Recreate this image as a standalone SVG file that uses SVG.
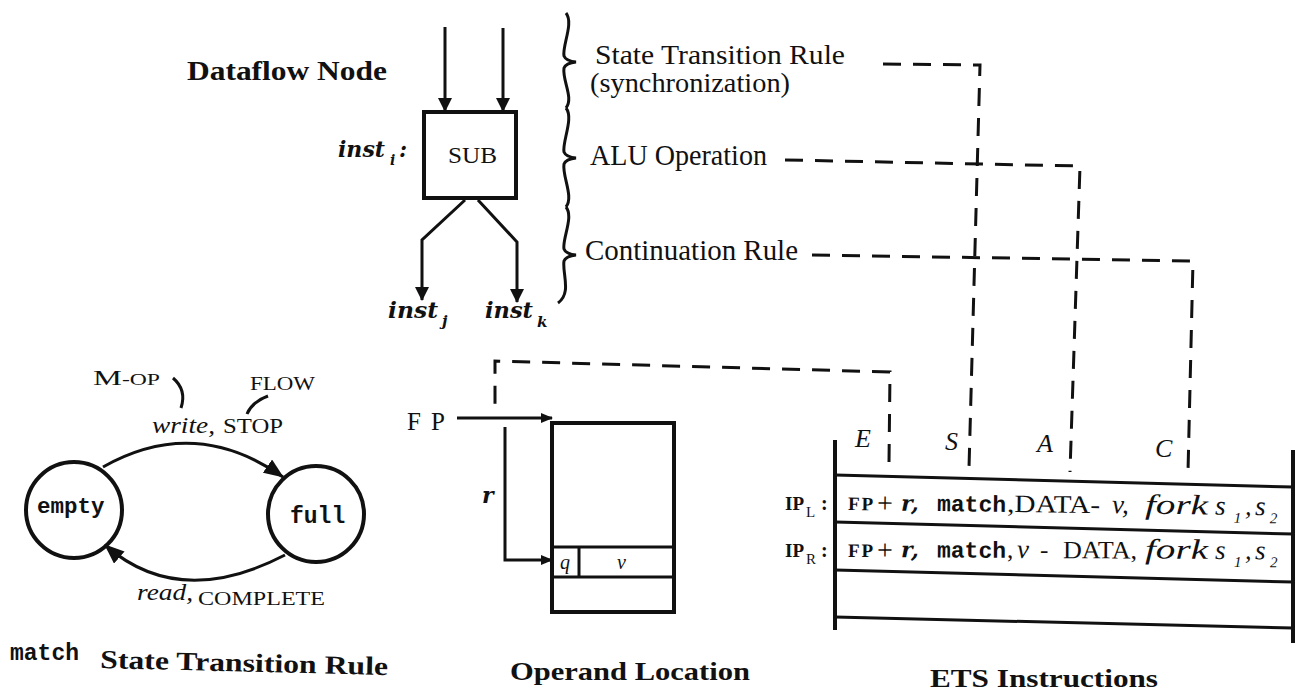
<svg xmlns="http://www.w3.org/2000/svg" width="1302" height="697" viewBox="0 0 1302 697">
<style>
text { fill:#111; }
.rm { font-family:"Liberation Serif", serif; }
.bf { font-family:"Liberation Serif", serif; font-weight:bold; }
.it { font-family:"Liberation Serif", serif; font-style:italic; }
.bi { font-family:"DejaVu Serif", "Liberation Serif", serif; font-weight:bold; font-style:italic; }
.tt { font-family:"Liberation Mono", monospace; font-weight:bold; }
.ln { fill:none; stroke:#111; stroke-width:3; }
.thick { fill:none; stroke:#111; stroke-width:4; }
.dash { fill:none; stroke:#111; stroke-width:3; stroke-dasharray:18 12; }
</style>
<defs>
<marker id="ah" markerUnits="userSpaceOnUse" viewBox="0 0 14 14" refX="13" refY="7" markerWidth="14" markerHeight="14" orient="auto"><path d="M0,0 L14,7 L0,14 z" fill="#111"/></marker>
<marker id="ahL" markerUnits="userSpaceOnUse" viewBox="0 0 20 16" refX="19" refY="8" markerWidth="20" markerHeight="16" orient="auto"><path d="M0,0 L20,8 L0,16 z" fill="#111"/></marker>
<marker id="ahS" markerUnits="userSpaceOnUse" viewBox="0 0 12 10" refX="11" refY="5" markerWidth="12" markerHeight="10" orient="auto"><path d="M0,0 L12,5 L0,10 z" fill="#111"/></marker>
</defs>
<rect width="1302" height="697" fill="#fff"/>

<g id="dataflow-title">
<text class="bf" x="187" y="80" font-size="27" textLength="200" lengthAdjust="spacingAndGlyphs">Dataflow Node</text>
</g>

<g id="node-sub">
<rect x="424" y="112" width="92" height="86" class="thick"/>
<text class="rm" x="448" y="163" font-size="24" textLength="49" lengthAdjust="spacingAndGlyphs">SUB</text>
<text class="bi" x="338" y="157" font-size="23" textLength="47" lengthAdjust="spacingAndGlyphs">inst</text>
<text class="bi" x="390" y="165" font-size="14">i</text>
<text class="bi" x="399" y="157" font-size="22">:</text>
</g>

<g id="node-instj">
<text class="bi" x="388" y="318" font-size="23" textLength="50" lengthAdjust="spacingAndGlyphs">inst</text>
<text class="bi" x="442" y="326" font-size="15">j</text>
</g>
<g id="node-instk">
<text class="bi" x="485" y="318" font-size="23" textLength="48" lengthAdjust="spacingAndGlyphs">inst</text>
<text class="bi" x="537" y="327" font-size="15">k</text>
</g>

<g id="braces">
<path class="ln" d="M566 13 C574 23 562 46 564 56 Q566 61 576 62 Q566 63 564 68 C562 80 574 98 566 108"/>
<path class="ln" d="M566 108 C574 118 562 142 564 152 Q566 157 576 158 Q566 159 564 164 C562 176 574 197 566 207"/>
<path class="ln" d="M566 207 C574 217 562 239 564 249 Q566 254 576 255 Q566 256 564 261 C562 273 572 293 558 303"/>
</g>

<g id="rule-labels">
<text class="rm" x="595" y="64" font-size="27" textLength="250" lengthAdjust="spacingAndGlyphs">State Transition Rule</text>
<text class="rm" x="590" y="92" font-size="27" textLength="200" lengthAdjust="spacingAndGlyphs">(synchronization)</text>
<text class="rm" x="590" y="165" font-size="29" textLength="177" lengthAdjust="spacingAndGlyphs">ALU Operation</text>
<text class="rm" x="585" y="260" font-size="29" textLength="213" lengthAdjust="spacingAndGlyphs">Continuation Rule</text>
</g>

<g id="connectors">
<path class="ln" d="M445 27 V111" marker-end="url(#ah)"/>
<path class="ln" d="M503 28 V111" marker-end="url(#ah)"/>
<path class="ln" d="M465 200 L422 240 V300" marker-end="url(#ah)"/>
<path class="ln" d="M478 200 L517 242 V302" marker-end="url(#ah)"/>
<path class="dash" d="M883 64 L980 65 L969 468"/>
<path class="dash" d="M785 160 L1080 166 L1070 472"/>
<path class="dash" d="M812 255 L1193 261 L1188 472"/>
<path class="dash" d="M889 462 L890 372 L495 361 L495 405"/>
<path class="ln" d="M103 467 Q195 415 283 477" marker-end="url(#ahL)"/>
<path class="ln" d="M285 555 Q179 610 105 545" marker-end="url(#ahL)"/>
<path class="ln" d="M457 418 H552" marker-end="url(#ahS)"/>
<path class="ln" d="M505 427 V560 H552" marker-end="url(#ahS)"/>
</g>

<g id="state-empty">
<circle cx="74" cy="510" r="48" class="thick"/>
<text class="tt" x="37" y="513" font-size="22.5">empty</text>
</g>
<g id="state-full">
<circle cx="316" cy="514" r="48" class="thick"/>
<text class="tt" x="290" y="523" font-size="23">full</text>
</g>

<g id="transition-labels">
<text class="rm" x="93" y="385" font-size="22" textLength="67" lengthAdjust="spacingAndGlyphs">M<tspan font-size="16">-OP</tspan></text>
<path class="ln" stroke-width="2.5" d="M173 378 Q187 390 181 408"/>
<text class="rm" x="250" y="390" font-size="19" textLength="65" lengthAdjust="spacingAndGlyphs">FLOW</text>
<path class="ln" stroke-width="2.5" d="M268 396 Q252 402 247 414"/>
<text class="it" x="152" y="433" font-size="24" textLength="63" lengthAdjust="spacingAndGlyphs">write,</text>
<text class="rm" x="223" y="433" font-size="20" textLength="60" lengthAdjust="spacingAndGlyphs">STOP</text>
<text class="it" x="137" y="600" font-size="24" textLength="56" lengthAdjust="spacingAndGlyphs">read,</text>
<text class="rm" x="198" y="605" font-size="19" textLength="127" lengthAdjust="spacingAndGlyphs">COMPLETE</text>
</g>

<g id="caption-state">
<text class="tt" x="10" y="660" font-size="23">match</text>
<text class="bf" x="100" y="668" font-size="26" textLength="288" lengthAdjust="spacingAndGlyphs" transform="rotate(1.4 100 668)">State Transition Rule</text>
</g>

<g id="operand-location">
<text class="rm" x="407" y="430" font-size="25" textLength="38" lengthAdjust="spacing">FP</text>
<rect x="552" y="423" width="122" height="189" class="thick"/>
<path class="ln" d="M552 547 H674 M552 577 H674 M579 547 V577"/>
<text class="it" x="560" y="569" font-size="20">q</text>
<text class="it" x="617" y="569" font-size="20">v</text>
<text class="bi" x="482" y="503" font-size="22">r</text>
<text class="bf" x="510" y="680" font-size="26" textLength="240" lengthAdjust="spacingAndGlyphs">Operand Location</text>
</g>

<g id="ets-table">
<path class="thick" d="M835 440 V630 M1293 450 V643"/>
<path class="ln" stroke-width="2.5" d="M835 475 L1293 487 M835 522 L1293 534 M835 570 L1293 582 M835 617 L1293 628"/>
<text class="it" x="855" y="447" font-size="26">E</text>
<text class="it" x="945" y="450" font-size="26">S</text>
<text class="it" x="1037" y="452" font-size="26">A</text>
<text class="it" x="1155" y="457" font-size="26">C</text>
<text class="bf" x="785" y="510" font-size="19">IP</text>
<text class="rm" x="806" y="517" font-size="15">L</text>
<text class="bf" x="821" y="510" font-size="20">:</text>
<text class="bf" x="785" y="557" font-size="19">IP</text>
<text class="rm" x="806" y="564" font-size="15">R</text>
<text class="bf" x="821" y="557" font-size="20">:</text>
<g transform="rotate(0.7 848 510)">
<text class="bf" x="848" y="510" font-size="19" textLength="25" lengthAdjust="spacing">FP</text>
<text class="rm" x="877" y="512" font-size="28">+</text>
<text class="bi" x="901" y="510" font-size="22">r,</text>
<text class="tt" x="937" y="510" font-size="23">match</text>
<text class="rm" x="1007" y="510" font-size="25" textLength="93" lengthAdjust="spacingAndGlyphs">,DATA-</text>
<text class="it" x="1112" y="510" font-size="27">v,</text>
<text class="it" x="1145" y="510" font-size="28" textLength="63" lengthAdjust="spacingAndGlyphs">fork</text>
<text class="it" x="1215" y="510" font-size="27">s</text>
<text class="it" x="1234" y="518" font-size="15">1</text>
<text class="it" x="1245" y="510" font-size="26">,</text>
<text class="it" x="1255" y="510" font-size="27">s</text>
<text class="it" x="1270" y="518" font-size="15">2</text>
</g>
<g transform="rotate(0.3 848 557)">
<text class="bf" x="848" y="557" font-size="19" textLength="25" lengthAdjust="spacing">FP</text>
<text class="rm" x="877" y="559" font-size="28">+</text>
<text class="bi" x="901" y="557" font-size="22">r,</text>
<text class="tt" x="937" y="557" font-size="23">match</text>
<text class="rm" x="1007" y="557" font-size="25">,</text>
<text class="it" x="1017" y="557" font-size="27">v</text>
<text class="rm" x="1040" y="557" font-size="25">-</text>
<text class="rm" x="1063" y="557" font-size="25" textLength="74" lengthAdjust="spacingAndGlyphs">DATA,</text>
<text class="it" x="1145" y="557" font-size="28" textLength="63" lengthAdjust="spacingAndGlyphs">fork</text>
<text class="it" x="1215" y="557" font-size="27">s</text>
<text class="it" x="1234" y="565" font-size="15">1</text>
<text class="it" x="1245" y="557" font-size="26">,</text>
<text class="it" x="1255" y="557" font-size="27">s</text>
<text class="it" x="1270" y="565" font-size="15">2</text>
</g>
<text class="bf" x="930" y="687" font-size="25" textLength="228" lengthAdjust="spacingAndGlyphs">ETS Instructions</text>
</g>
</svg>
